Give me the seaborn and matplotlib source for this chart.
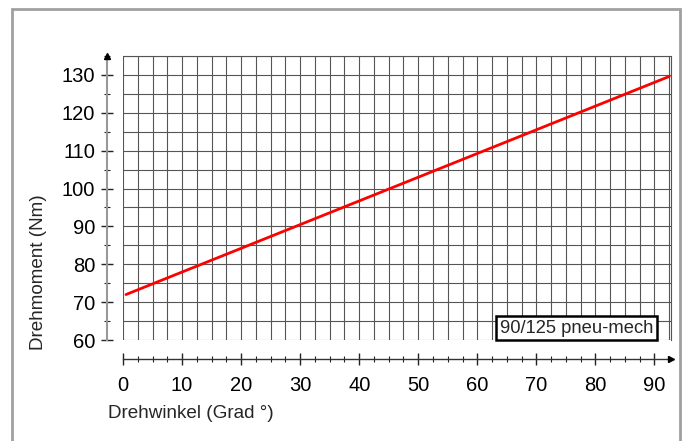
import matplotlib
matplotlib.use("Agg")
import matplotlib.pyplot as plt
from matplotlib.ticker import MultipleLocator
from matplotlib.transforms import ScaledTranslation
from matplotlib.patches import Rectangle
import seaborn as sns
import pandas as pd

# data
angle = [0.5, 92.5]
torque = [72.0, 129.6]
series_label = "90/125 pneu-mech"
x_label = "Drehwinkel (Grad °)"
y_label = "Drehmoment (Nm)"
x_ticks = [0, 10, 20, 30, 40, 50, 60, 70, 80, 90]
y_ticks = [60, 70, 80, 90, 100, 110, 120, 130]

sns.set_style("white")
plt.rcParams['font.family'] = ['Liberation Sans', 'DejaVu Sans']

W, H = 686, 441
fig = plt.figure(figsize=(W / 100, H / 100), dpi=100)
ax = fig.add_axes([123 / W, 1 - 340 / H, 548 / W, 284 / H])

df = pd.DataFrame({"x": angle, "y": torque})
sns.lineplot(data=df, x="x", y="y", ax=ax, color="#ff0000", linewidth=2.0, zorder=5)

ax.set_xlim(0, 92.8)
ax.set_ylim(60, 135)
ax.set_xticks(x_ticks)
ax.set_yticks(y_ticks)
ax.xaxis.set_minor_locator(MultipleLocator(2.5))
ax.yaxis.set_minor_locator(MultipleLocator(5))

ax.grid(True, which="both", color="#555555", linewidth=0.8)
ax.set_axisbelow(True)

for s in ["top", "right"]:
    ax.spines[s].set_visible(True)
    ax.spines[s].set_color("#555555")
    ax.spines[s].set_linewidth(0.8)
ax.spines["left"].set_position(("outward", 11.5))
ax.spines["bottom"].set_position(("outward", 13.7))
ax.spines["left"].set_color("#999999")
ax.spines["left"].set_linewidth(1.5)
ax.spines["bottom"].set_color("#333333")
ax.spines["bottom"].set_linewidth(1.0)

ax.tick_params(axis="both", which="major", direction="inout", length=8, width=1.0,
               color="#222222", labelsize=14.5, labelcolor="black")
ax.tick_params(axis="both", which="minor", direction="inout", length=4.5, width=0.8,
               color="#222222")
ax.tick_params(axis="y", which="major", pad=4.5, left=True)
ax.tick_params(axis="y", which="minor", left=True)
ax.tick_params(axis="x", which="major", pad=8, bottom=True)
ax.tick_params(axis="x", which="minor", bottom=True)

ax.set_xlabel("")
ax.set_ylabel("")

# arrows at axis ends
off_y = ScaledTranslation(-11.5 / 72, 0, fig.dpi_scale_trans)
ax.plot([0], [1.0], marker="^", color="black", markersize=5, clip_on=False,
        transform=ax.transAxes + off_y, zorder=10)
off_x = ScaledTranslation(0, -13.7 / 72, fig.dpi_scale_trans)
ax.plot([1.0], [0], marker=">", color="black", markersize=5, clip_on=False,
        transform=ax.transAxes + off_x, zorder=10)

# legend box
ax.text(76.8, 63.1, series_label, ha="center", va="center", fontsize=13.2,
        zorder=8,
        bbox=dict(boxstyle="square,pad=0.2", facecolor="white",
                  edgecolor="black", linewidth=1.8))

fig.text(108 / W, 1 - 413 / H, x_label, ha="left", va="center", fontsize=13.6)
fig.text(39 / W, 1 - 272 / H, y_label, ha="center", va="center", fontsize=13.6,
         rotation=90)

# outer frame
fig.patches.append(Rectangle((12 / W, -0.05), (680 - 12) / W, 1.05 - 9 / H,
                             transform=fig.transFigure, fill=False,
                             edgecolor="#a0a0a0", linewidth=2.0))

fig.savefig("out.png", dpi=100)
